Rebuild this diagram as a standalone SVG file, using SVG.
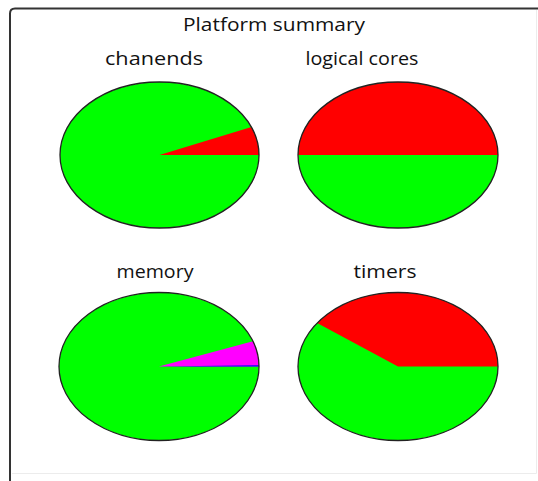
<svg xmlns="http://www.w3.org/2000/svg" width="538" height="481" viewBox="0 0 538 481">
  <style>
    .lbl { font-family: "Open Sans", "DejaVu Sans", sans-serif; font-size: 18px; fill: #111; text-anchor: middle; }
    .title { font-size: 18px; }
    .outline { fill: none; stroke: #222; stroke-width: 1.3; }
    .g { fill: #00ff00; }
    .r { fill: #ff0000; }
    .m { fill: #ff00ff; }
    .b { fill: #0000ff; }
  </style>
  <rect x="0" y="0" width="538" height="481" fill="#ffffff"/>
  <g id="frame">
    <path d="M538 8.5 H15 Q10 8.5 10 13.5 V481" fill="none" stroke="#333" stroke-width="2"/>
    <path d="M12 473.5 H536.5 V10" fill="none" stroke="#ececec" stroke-width="1"/>
  </g>
  <text id="title" class="lbl title" x="274" y="31" textLength="182" lengthAdjust="spacingAndGlyphs">Platform summary</text>
  <g id="connectors"></g>
  <g id="chanends">
    <text class="lbl" x="154" y="65" textLength="98" lengthAdjust="spacingAndGlyphs">chanends</text>
    <ellipse class="g" cx="159.5" cy="155" rx="99.5" ry="73"/>
    <path class="r" d="M159.5 155 L259 155 A99.5 73 0 0 0 251.43 127.06 Z"/>
    <ellipse class="outline" cx="159.5" cy="155" rx="99.5" ry="73"/>
  </g>
  <g id="logical-cores">
    <text class="lbl" x="362" y="65" textLength="113" lengthAdjust="spacingAndGlyphs">logical cores</text>
    <ellipse class="g" cx="398" cy="155" rx="100" ry="73"/>
    <path class="r" d="M298 155 A100 73 0 0 1 498 155 Z"/>
    <ellipse class="outline" cx="398" cy="155" rx="100" ry="73"/>
  </g>
  <g id="memory">
    <text class="lbl" x="155" y="278" textLength="77" lengthAdjust="spacingAndGlyphs">memory</text>
    <ellipse class="g" cx="159" cy="366.5" rx="100" ry="74"/>
    <path class="m" d="M159 366.5 L259 366.5 A100 74 0 0 0 252.97 341.19 Z"/>
    <path class="b" d="M159 366.5 L259 366.5 A100 74 0 0 0 258.98 365.2 Z"/>
    <ellipse class="outline" cx="159" cy="366.5" rx="100" ry="74"/>
  </g>
  <g id="timers">
    <text class="lbl" x="385" y="278" textLength="63" lengthAdjust="spacingAndGlyphs">timers</text>
    <ellipse class="g" cx="398" cy="366.5" rx="100" ry="74"/>
    <path class="r" d="M398 366.5 L498 366.5 A100 74 0 0 0 317.1 323 Z"/>
    <ellipse class="outline" cx="398" cy="366.5" rx="100" ry="74"/>
  </g>
</svg>
